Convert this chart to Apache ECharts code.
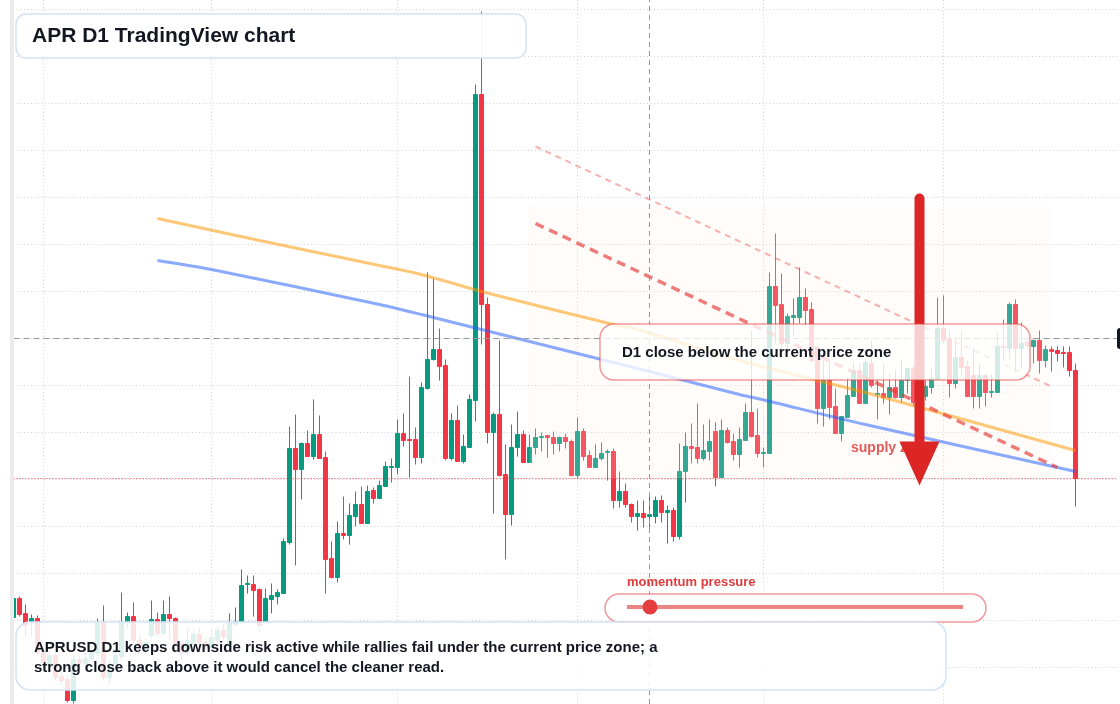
<!DOCTYPE html>
<html>
<head>
<meta charset="utf-8">
<title>APR D1 TradingView chart</title>
<script src="https://cdn.jsdelivr.net/npm/echarts@6/dist/echarts.min.js"></script>
<style>
  html, body { margin: 0; padding: 0; background: #fff; }
  #chart { width: 1120px; height: 704px; }
</style>
</head>
<body>
<div id="chart"></div>
<script>
  // daily candles, the first one is 2025-01-27
  var firstDay = Date.UTC(2025, 0, 27)
  var emptyDays = 7 // empty space on the right, like tradingview

  // [open, close, low, high]
  var ohlc = [
    [0.191,0.210,0.190,0.211],[0.210,0.194,0.192,0.212],[0.195,0.183,0.172,0.204],[0.187,0.190,0.172,0.194],
    [0.190,0.156,0.153,0.193],[0.156,0.146,0.140,0.160],[0.143,0.153,0.138,0.158],[0.153,0.131,0.128,0.156],
    [0.132,0.128,0.124,0.136],[0.129,0.108,0.106,0.133],[0.108,0.149,0.105,0.153],[0.149,0.145,0.140,0.153],
    [0.145,0.150,0.142,0.156],[0.150,0.156,0.148,0.163],[0.155,0.186,0.153,0.190],[0.186,0.131,0.128,0.203],
    [0.131,0.144,0.125,0.148],[0.144,0.153,0.140,0.158],[0.152,0.186,0.148,0.216],[0.186,0.192,0.180,0.196],
    [0.192,0.168,0.163,0.206],[0.168,0.162,0.158,0.172],[0.158,0.166,0.154,0.170],[0.173,0.189,0.171,0.208],
    [0.189,0.175,0.172,0.196],[0.175,0.194,0.173,0.208],[0.194,0.190,0.170,0.212],[0.190,0.165,0.163,0.191],
    [0.165,0.156,0.148,0.168],[0.156,0.168,0.152,0.180],[0.164,0.174,0.160,0.178],[0.174,0.166,0.162,0.180],
    [0.166,0.163,0.158,0.170],[0.161,0.171,0.158,0.179],[0.168,0.178,0.163,0.182],[0.178,0.172,0.168,0.184],
    [0.165,0.186,0.163,0.195],[0.184,0.187,0.182,0.201],[0.187,0.223,0.185,0.239],[0.224,0.225,0.215,0.233],
    [0.224,0.218,0.192,0.233],[0.219,0.183,0.176,0.220],[0.187,0.210,0.186,0.220],[0.209,0.213,0.195,0.225],
    [0.212,0.216,0.204,0.219],[0.215,0.267,0.215,0.270],[0.266,0.360,0.264,0.382],[0.360,0.339,0.243,0.394],
    [0.339,0.365,0.309,0.366],[0.365,0.352,0.352,0.378],[0.352,0.374,0.349,0.409],[0.374,0.350,0.350,0.393],
    [0.351,0.249,0.215,0.357],[0.250,0.231,0.230,0.267],[0.231,0.275,0.226,0.287],[0.275,0.273,0.269,0.312],
    [0.273,0.293,0.264,0.305],[0.292,0.304,0.282,0.317],[0.304,0.285,0.285,0.322],[0.285,0.317,0.285,0.323],
    [0.318,0.310,0.305,0.321],[0.310,0.323,0.310,0.328],[0.322,0.342,0.322,0.347],[0.341,0.342,0.326,0.350],
    [0.341,0.375,0.334,0.389],[0.375,0.368,0.362,0.395],[0.369,0.368,0.331,0.432],[0.369,0.351,0.344,0.381],
    [0.351,0.421,0.345,0.426],[0.420,0.449,0.419,0.536],[0.449,0.459,0.448,0.530],[0.459,0.442,0.428,0.480],
    [0.443,0.350,0.348,0.449],[0.350,0.388,0.348,0.395],[0.388,0.347,0.347,0.403],[0.347,0.362,0.345,0.374],
    [0.361,0.409,0.361,0.414],[0.408,0.714,0.387,0.724],[0.714,0.504,0.464,0.797],[0.504,0.376,0.365,0.511],
    [0.376,0.394,0.295,0.396],[0.394,0.333,0.332,0.468],[0.334,0.294,0.249,0.364],[0.294,0.361,0.283,0.384],
    [0.361,0.374,0.352,0.397],[0.374,0.346,0.346,0.378],[0.346,0.361,0.346,0.374],[0.361,0.371,0.354,0.380],
    [0.371,0.372,0.357,0.376],[0.373,0.371,0.351,0.373],[0.371,0.365,0.354,0.377],[0.365,0.371,0.357,0.372],
    [0.371,0.367,0.360,0.375],[0.367,0.333,0.332,0.369],[0.333,0.377,0.330,0.391],[0.377,0.352,0.348,0.380],
    [0.353,0.341,0.341,0.358],[0.341,0.350,0.341,0.364],[0.350,0.355,0.348,0.366],[0.356,0.357,0.328,0.359],
    [0.357,0.308,0.300,0.360],[0.308,0.317,0.301,0.337],[0.317,0.304,0.301,0.325],[0.304,0.292,0.286,0.305],
    [0.292,0.295,0.278,0.308],[0.295,0.291,0.281,0.308],[0.292,0.294,0.281,0.315],[0.292,0.308,0.285,0.312],
    [0.308,0.296,0.286,0.313],[0.296,0.298,0.265,0.303],[0.298,0.272,0.267,0.301],[0.272,0.337,0.269,0.365],
    [0.337,0.362,0.306,0.376],[0.362,0.360,0.345,0.385],[0.361,0.350,0.345,0.405],[0.350,0.358,0.348,0.384],
    [0.357,0.367,0.348,0.389],[0.377,0.331,0.322,0.386],[0.331,0.378,0.331,0.389],[0.378,0.366,0.365,0.381],
    [0.367,0.354,0.348,0.375],[0.354,0.369,0.341,0.381],[0.368,0.396,0.368,0.405],[0.396,0.372,0.371,0.478],
    [0.373,0.355,0.351,0.400],[0.355,0.356,0.341,0.361],[0.355,0.522,0.355,0.536],[0.522,0.503,0.465,0.575],
    [0.504,0.465,0.460,0.535],[0.465,0.492,0.456,0.495],[0.491,0.493,0.472,0.510],[0.491,0.511,0.485,0.541],
    [0.511,0.498,0.483,0.520],[0.499,0.448,0.446,0.506],[0.461,0.400,0.385,0.462],[0.400,0.428,0.382,0.448],
    [0.428,0.401,0.389,0.448],[0.402,0.375,0.375,0.420],[0.375,0.392,0.367,0.392],[0.391,0.413,0.391,0.431],
    [0.412,0.438,0.412,0.446],[0.438,0.405,0.405,0.445],[0.405,0.446,0.405,0.450],[0.445,0.423,0.421,0.468],
    [0.414,0.415,0.389,0.429],[0.415,0.411,0.405,0.445],[0.411,0.421,0.394,0.435],[0.421,0.411,0.410,0.439],
    [0.411,0.428,0.406,0.449],[0.428,0.440,0.415,0.441],[0.440,0.406,0.403,0.443],[0.406,0.413,0.400,0.418],
    [0.412,0.422,0.408,0.428],[0.421,0.430,0.415,0.441],[0.429,0.480,0.429,0.511],[0.480,0.468,0.465,0.513],
    [0.470,0.425,0.411,0.478],[0.425,0.451,0.420,0.469],[0.451,0.441,0.433,0.478],[0.442,0.412,0.412,0.448],
    [0.433,0.412,0.400,0.461],[0.412,0.433,0.400,0.445],[0.433,0.416,0.402,0.435],[0.416,0.417,0.411,0.434],
    [0.416,0.462,0.416,0.475],[0.462,0.461,0.448,0.489],[0.460,0.504,0.449,0.506],[0.504,0.460,0.437,0.509],
    [0.460,0.465,0.440,0.486],[0.466,0.463,0.461,0.470],[0.462,0.468,0.445,0.469],[0.468,0.448,0.435,0.478],
    [0.448,0.459,0.441,0.463],[0.459,0.457,0.437,0.462],[0.458,0.455,0.447,0.462],[0.456,0.455,0.441,0.462],
    [0.456,0.438,0.432,0.462],[0.438,0.330,0.302,0.445]
  ]

  // moving averages, read at some candles: [candle index, value]
  var fastMa = [[24,0.590],[41,0.568],[61,0.543],[68,0.534],[78,0.517],[100,0.484],[104,0.479],[121,0.448],[134,0.428],[142,0.416],[177,0.358]]
  var slowMa = [[24,0.548],[33,0.539],[61,0.504],[68,0.494],[98,0.449],[104,0.440],[121,0.414],[124,0.410],[142,0.384],[177,0.337]]

  // trend lines, zone and arrow: [candle index, price]
  var upperTrend = [[87,0.662],[173,0.422]]
  var lowerTrend = [[87,0.585],[174,0.341]]
  var zone = [[86,0.602],[173,0.330]]
  var arrow = [[151,0.610],[151,0.345]]

  var crossDay = 106
  var crossPrice = 0.470
  var lastPrice = 0.330

  // visible price range and the price grid lines
  var viewMin = 0.1045
  var viewMax = 0.8085
  var gridLines = { min: 0.141, max: 0.799, step: 0.047 }

  var dates = []
  for (var i = 0; i < ohlc.length + emptyDays; i++) {
    dates.push(new Date(firstDay + i * 864e5).toISOString().slice(0, 10))
  }
  function toDates(points) {
    return points.map(function (p) { return [dates[p[0]], p[1]] })
  }

  var font = '"Liberation Sans", Arial, sans-serif'
  var up = '#089981'
  var down = '#f23645'
  var dots = { color: '#cdd1d8', type: [1, 2.5], width: 1 }

  var chart = echarts.init(document.getElementById('chart'))
  chart.setOption({
    animation: false,
    backgroundColor: '#fff',
    grid: [
      { left: 13.5, right: 2.5, top: 0, bottom: 0 },
      // only used for the horizontal price lines
      { left: 13.5, right: 2.5, top: 9.5, bottom: 36.5 }
    ],
    xAxis: [
      {
        type: 'category',
        data: dates,
        boundaryGap: false,
        axisLine: { show: false },
        axisTick: { show: false },
        axisLabel: { show: false },
        splitLine: {
          show: true,
          // a line at the start of each month
          interval: function (index, value) { return value.slice(8) === '01' },
          lineStyle: dots
        }
      },
      { gridIndex: 1, type: 'category', data: dates, show: false }
    ],
    yAxis: [
      {
        type: 'value',
        min: viewMin,
        max: viewMax,
        axisLine: { show: false },
        axisTick: { show: false },
        axisLabel: { show: false },
        splitLine: { show: false }
      },
      {
        gridIndex: 1,
        type: 'value',
        min: gridLines.min,
        max: gridLines.max,
        interval: gridLines.step,
        axisLine: { show: false },
        axisTick: { show: false },
        axisLabel: { show: false },
        splitLine: { lineStyle: dots }
      }
    ],
    series: [
      {
        type: 'candlestick',
        data: ohlc,
        barWidth: 5,
        clip: true,
        itemStyle: { color: up, color0: down, borderColor: up, borderColor0: down, borderWidth: 1 },
        markLine: {
          silent: true,
          symbol: 'none',
          animation: false,
          label: { show: false },
          data: [
            { xAxis: dates[crossDay], lineStyle: { color: '#9598a1', type: [5, 4], width: 1 } },
            { yAxis: crossPrice, lineStyle: { color: '#9598a1', type: [6, 4], width: 1 } },
            { yAxis: lastPrice, lineStyle: { color: down, type: [1, 2], width: 1 } }
          ]
        }
      },
      {
        type: 'line',
        data: toDates(fastMa),
        smooth: 0.3,
        showSymbol: false,
        silent: true,
        lineStyle: { color: 'rgba(255,152,0,0.53)', width: 3 }
      },
      {
        type: 'line',
        data: toDates(slowMa),
        smooth: 0.3,
        showSymbol: false,
        silent: true,
        lineStyle: { color: 'rgba(41,98,255,0.54)', width: 3 }
      },
      {
        type: 'line',
        data: toDates(upperTrend),
        showSymbol: false,
        silent: true,
        lineStyle: { color: 'rgba(239,83,80,0.45)', width: 2, type: [6, 5] },
        markArea: {
          silent: true,
          z: 3,
          itemStyle: { color: 'rgba(255,236,225,0.18)' },
          data: [[{ coord: toDates(zone)[0] }, { coord: toDates(zone)[1] }]]
        }
      },
      {
        type: 'line',
        data: toDates(lowerTrend),
        showSymbol: false,
        silent: true,
        z: 4,
        lineStyle: { color: 'rgba(229,57,53,0.65)', width: 3.5, type: [9, 6] }
      },
      // big red arrow: shaft and head
      {
        type: 'line',
        data: toDates(arrow),
        showSymbol: false,
        silent: true,
        z: 6,
        lineStyle: { color: '#dc2626', width: 10, cap: 'round' }
      },
      {
        type: 'scatter',
        data: toDates(arrow).slice(1),
        symbol: 'triangle',
        symbolRotate: 180,
        symbolSize: [40, 44],
        silent: true,
        z: 7,
        itemStyle: { color: '#dc2626', opacity: 1 }
      }
    ],
    graphic: [
      // left edge strip, over the first half candle
      { type: 'rect', z: 100, shape: { x: 10, y: 0, width: 4, height: 704 }, style: { fill: '#ebebeb' } },
      { type: 'text', z: 1, x: 851, y: 448, style: { text: 'supply zone', font: 'bold 14px ' + font, fill: '#e03a3a', verticalAlign: 'middle' } },

      { type: 'rect', z: 100, shape: { x: 16, y: 14, width: 510, height: 44, r: 10 }, style: { fill: 'rgba(255,255,255,0.92)', stroke: '#d4e2f7', lineWidth: 1.5 } },
      { type: 'text', z: 101, x: 32, y: 36, style: { text: 'APR D1 TradingView chart', font: 'bold 21px ' + font, fill: '#131722', verticalAlign: 'middle' } },

      { type: 'rect', z: 100, shape: { x: 600, y: 324, width: 430, height: 56, r: 14 }, style: { fill: 'rgba(255,255,255,0.78)', stroke: 'rgba(230,70,70,0.55)', lineWidth: 1.5 } },
      { type: 'text', z: 101, x: 622, y: 353, style: { text: 'D1 close below the current price zone', font: 'bold 15px ' + font, fill: '#131722', verticalAlign: 'middle' } },

      { type: 'text', z: 101, x: 627, y: 582, style: { text: 'momentum pressure', font: 'bold 13px ' + font, fill: '#e03b3b', verticalAlign: 'middle' } },
      { type: 'rect', z: 100, shape: { x: 605, y: 594, width: 381, height: 28, r: 14 }, style: { fill: 'rgba(255,255,255,0.9)', stroke: 'rgba(230,70,70,0.55)', lineWidth: 1.5 } },
      { type: 'line', z: 101, shape: { x1: 627, y1: 607, x2: 963, y2: 607 }, style: { stroke: 'rgba(230,80,80,0.7)', lineWidth: 4 } },
      { type: 'circle', z: 102, shape: { cx: 650, cy: 607, r: 7.5 }, style: { fill: '#e53e3e' } },

      { type: 'rect', z: 100, shape: { x: 16, y: 622, width: 930, height: 68, r: 14 }, style: { fill: 'rgba(255,255,255,0.86)', stroke: '#d4e2f7', lineWidth: 1.5 } },
      {
        type: 'text', z: 101, x: 34, y: 638,
        style: {
          text: 'APRUSD D1 keeps downside risk active while rallies fail under the current price zone; a\nstrong close back above it would cancel the cleaner read.',
          font: 'bold 15px ' + font, lineHeight: 20, fill: '#131722', verticalAlign: 'top'
        }
      },

      // price tag of the crosshair, cut by the right edge
      { type: 'rect', z: 100, shape: { x: 1117, y: 328, width: 30, height: 21, r: 3 }, style: { fill: '#131722' } }
    ]
  })
</script>
</body>
</html>
